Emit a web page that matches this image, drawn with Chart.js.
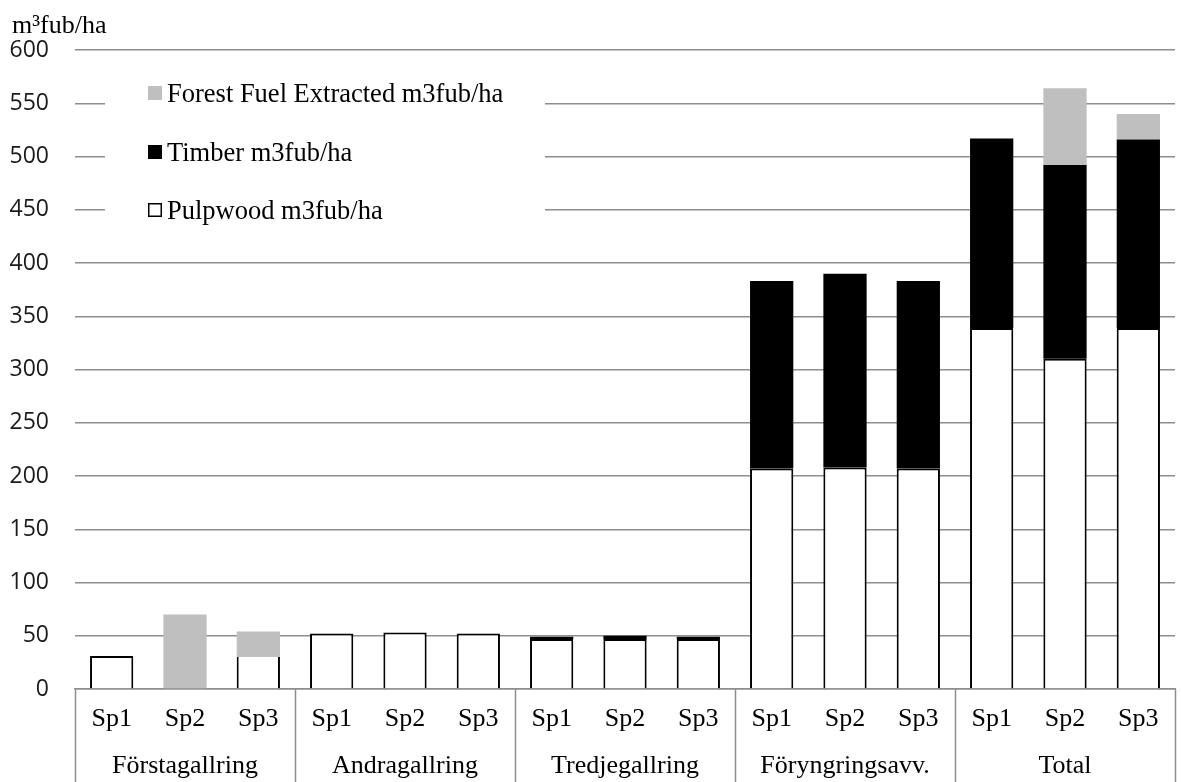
<!DOCTYPE html>
<html>
<head>
<meta charset="utf-8">
<script src="https://cdn.jsdelivr.net/npm/chart.js@4/dist/chart.umd.min.js"></script>
<style>
  html, body { margin: 0; padding: 0; background: #fff; }
  #wrap { width: 1181px; height: 782px; }
</style>
</head>
<body>
<div id="wrap"><canvas id="c" width="1181" height="782"></canvas></div>
<script>
// Harvest volumes per treatment and stand programme (m3fub/ha)
const groups = ['Förstagallring', 'Andragallring', 'Tredjegallring', 'Föryngringsavv.', 'Total'];
const programmes = ['Sp1', 'Sp2', 'Sp3'];
const yTicks = [0, 50, 100, 150, 200, 250, 300, 350, 400, 450, 500, 550, 600];

const pulpwood = [31, 0, 30, 52, 53, 52, 47, 47, 47, 207, 208, 207, 339, 310, 339];
const timber   = [0, 0, 0, 0, 0, 0, 2, 3, 2, 176, 182, 176, 178, 182, 177];
const fuel     = [0, 70, 24, 0, 0, 0, 0, 0, 0, 0, 0, 0, 0, 72, 24];

const seriesNames = ['Pulpwood m3fub/ha', 'Timber m3fub/ha', 'Forest Fuel Extracted m3fub/ha'];
const unitTitle = 'm³fub/ha';

// Two-line tick labels: programme on top, treatment name under the middle bar of each group
const labels = [];
groups.forEach(g => programmes.forEach((p, i) => labels.push(i === 1 ? [p, g] : [p, ''])));

const SERIF = '"Liberation Serif", "Times New Roman", serif';
const SANS = '"Open Sans", "Noto Sans", sans-serif';
const GRID = '#8e8e8e';

// Pulpwood outline: no top edge where grey fuel sits directly on it
function pulpBorder(ctx) {
  const i = ctx.dataIndex;
  if (fuel[i] > 0 && timber[i] === 0) return { left: 2, right: 2, top: 0, bottom: 0 };
  return 2;
}

// White legend panel with square markers, drawn inside the plot area
const legendPanel = {
  id: 'legendPanel',
  afterDatasetsDraw(chart) {
    const ctx = chart.ctx;
    const ds = chart.data.datasets;
    ctx.save();
    ctx.fillStyle = '#fff';
    ctx.fillRect(105, 72, 440, 163);
    const order = [2, 1, 0];
    const ys = [93, 152, 210];
    ctx.font = '26.5px ' + SERIF;
    ctx.textBaseline = 'middle';
    order.forEach((k, j) => {
      const y = ys[j];
      const d = ds[k];
      ctx.fillStyle = d.backgroundColor;
      ctx.fillRect(148, y - 7, 14, 14);
      if (k === 0) {
        ctx.strokeStyle = d.borderColor;
        ctx.lineWidth = 1.5;
        ctx.strokeRect(148.75, y - 6.25, 12.5, 12.5);
      }
      ctx.fillStyle = '#000';
      ctx.fillText(d.label, 167, y + 2);
    });
    ctx.restore();
  }
};

// Axis unit above the value labels, and vertical dividers between treatment groups
const axisDecor = {
  id: 'axisDecor',
  afterDraw(chart) {
    const ctx = chart.ctx;
    const x = chart.scales.x;
    const area = chart.chartArea;
    ctx.save();
    ctx.fillStyle = '#000';
    ctx.font = '26px ' + SERIF;
    ctx.textBaseline = 'alphabetic';
    ctx.fillText(unitTitle, 12, 33);

    ctx.strokeStyle = GRID;
    ctx.lineWidth = 1.5;
    const n = labels.length;
    for (let i = 0; i <= n; i += programmes.length) {
      let px;
      if (i === 0) px = area.left;
      else if (i === n) px = area.right;
      else px = (x.getPixelForValue(i - 1) + x.getPixelForValue(i)) / 2;
      px = Math.round(px) + 0.5;
      ctx.beginPath();
      ctx.moveTo(px, area.bottom);
      ctx.lineTo(px, chart.height);
      ctx.stroke();
    }
    ctx.restore();
  }
};

new Chart(document.getElementById('c'), {
  type: 'bar',
  data: {
    labels: labels,
    datasets: [
      { label: seriesNames[0], data: pulpwood, backgroundColor: '#ffffff', borderColor: '#000000', borderWidth: pulpBorder },
      { label: seriesNames[1], data: timber, backgroundColor: '#000000', borderWidth: 0 },
      { label: seriesNames[2], data: fuel, backgroundColor: '#bfbfbf', borderWidth: 0 }
    ]
  },
  options: {
    responsive: false,
    animation: false,
    devicePixelRatio: 1,
    layout: { padding: { top: 50, right: 6, bottom: 0, left: 0 } },
    datasets: { bar: { barPercentage: 0.59, categoryPercentage: 1.0 } },
    plugins: { legend: { display: false }, tooltip: { enabled: false } },
    scales: {
      x: {
        stacked: true,
        grid: { display: false, drawTicks: false },
        border: { display: true, color: GRID, width: 1.5 },
        ticks: {
          color: '#000',
          padding: 7,
          maxRotation: 0,
          autoSkip: false,
          font: { family: SERIF, size: 26, lineHeight: 47 / 26 }
        },
        afterFit(scale) { scale.height = 93; }
      },
      y: {
        stacked: true,
        min: yTicks[0],
        max: yTicks[yTicks.length - 1],
        afterBuildTicks(scale) { scale.ticks = yTicks.map(v => ({ value: v })); },
        grid: { color: GRID, lineWidth: 1.5, drawTicks: false },
        border: { display: false },
        ticks: {
          color: '#1a1a1a',
          padding: 26,
          font: { family: SANS, size: 23 }
        },
        afterFit(scale) { scale.width = 75; }
      }
    }
  },
  plugins: [legendPanel, axisDecor]
});
</script>
</body>
</html>
